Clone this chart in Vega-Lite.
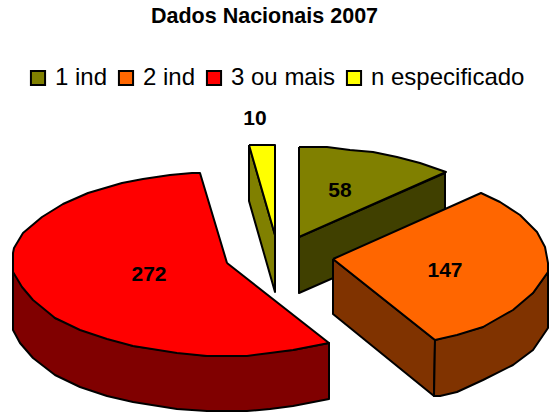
{
"$schema":"https://vega.github.io/schema/vega-lite/v6.json",
"width":549,"height":412,"padding":0,"autosize":{"type":"none"},
"background":"white",
"config":{"view":{"stroke":null}},
"title":{"text":"Dados Nacionais 2007","frame":"group","anchor":"start","dx":151,"offset":-27,"font":"Liberation Sans","fontSize":21.5,"fontWeight":"bold","color":"black"},
"datasets":{
"top":[
{"slice":"1 ind","poly":"a","i":0,"x":299,"y":147},{"slice":"1 ind","poly":"a","i":1,"x":327,"y":147},{"slice":"1 ind","poly":"a","i":2,"x":350,"y":150},{"slice":"1 ind","poly":"a","i":3,"x":373,"y":152},{"slice":"1 ind","poly":"a","i":4,"x":397,"y":157},{"slice":"1 ind","poly":"a","i":5,"x":420,"y":163},{"slice":"1 ind","poly":"a","i":6,"x":446,"y":172},{"slice":"1 ind","poly":"a","i":7,"x":299,"y":237},{"slice":"1 ind","poly":"a","i":8,"x":299,"y":147},
{"slice":"n especificado","poly":"a","i":0,"x":249,"y":145},{"slice":"n especificado","poly":"a","i":1,"x":275,"y":145},{"slice":"n especificado","poly":"a","i":2,"x":275,"y":235},{"slice":"n especificado","poly":"a","i":3,"x":249,"y":145},
{"slice":"3 ou mais","poly":"a","i":0,"x":227,"y":263},{"slice":"3 ou mais","poly":"a","i":1,"x":200,"y":173},{"slice":"3 ou mais","poly":"a","i":2,"x":192,"y":173},{"slice":"3 ou mais","poly":"a","i":3,"x":170,"y":175},{"slice":"3 ou mais","poly":"a","i":4,"x":143,"y":179},{"slice":"3 ou mais","poly":"a","i":5,"x":122,"y":183},{"slice":"3 ou mais","poly":"a","i":6,"x":88,"y":193},{"slice":"3 ou mais","poly":"a","i":7,"x":63,"y":204},{"slice":"3 ou mais","poly":"a","i":8,"x":42,"y":217},{"slice":"3 ou mais","poly":"a","i":9,"x":23,"y":233},{"slice":"3 ou mais","poly":"a","i":10,"x":14,"y":248},{"slice":"3 ou mais","poly":"a","i":11,"x":13,"y":253},{"slice":"3 ou mais","poly":"a","i":12,"x":13,"y":272},{"slice":"3 ou mais","poly":"a","i":13,"x":22,"y":287},{"slice":"3 ou mais","poly":"a","i":14,"x":33,"y":300},{"slice":"3 ou mais","poly":"a","i":15,"x":55,"y":318},{"slice":"3 ou mais","poly":"a","i":16,"x":80,"y":330},{"slice":"3 ou mais","poly":"a","i":17,"x":107,"y":339},{"slice":"3 ou mais","poly":"a","i":18,"x":133,"y":346},{"slice":"3 ou mais","poly":"a","i":19,"x":177,"y":353},{"slice":"3 ou mais","poly":"a","i":20,"x":207,"y":356},{"slice":"3 ou mais","poly":"a","i":21,"x":247,"y":356},{"slice":"3 ou mais","poly":"a","i":22,"x":270,"y":353},{"slice":"3 ou mais","poly":"a","i":23,"x":293,"y":350},{"slice":"3 ou mais","poly":"a","i":24,"x":329,"y":343},{"slice":"3 ou mais","poly":"a","i":25,"x":227,"y":263},
{"slice":"2 ind","poly":"a","i":0,"x":333,"y":259},{"slice":"2 ind","poly":"a","i":1,"x":481,"y":193},{"slice":"2 ind","poly":"a","i":2,"x":500,"y":202},{"slice":"2 ind","poly":"a","i":3,"x":520,"y":215},{"slice":"2 ind","poly":"a","i":4,"x":537,"y":232},{"slice":"2 ind","poly":"a","i":5,"x":545,"y":247},{"slice":"2 ind","poly":"a","i":6,"x":548,"y":263},{"slice":"2 ind","poly":"a","i":7,"x":548,"y":272},{"slice":"2 ind","poly":"a","i":8,"x":533,"y":293},{"slice":"2 ind","poly":"a","i":9,"x":513,"y":310},{"slice":"2 ind","poly":"a","i":10,"x":483,"y":327},{"slice":"2 ind","poly":"a","i":11,"x":457,"y":335},{"slice":"2 ind","poly":"a","i":12,"x":435,"y":340},{"slice":"2 ind","poly":"a","i":13,"x":333,"y":259}
],
"side":[
{"slice":"1 ind","poly":"a","i":0,"x":299,"y":237},{"slice":"1 ind","poly":"a","i":1,"x":445,"y":173},{"slice":"1 ind","poly":"a","i":2,"x":445,"y":229},{"slice":"1 ind","poly":"a","i":3,"x":299,"y":293},{"slice":"1 ind","poly":"a","i":4,"x":299,"y":237},
{"slice":"n especificado","poly":"a","i":0,"x":249,"y":145},{"slice":"n especificado","poly":"a","i":1,"x":275,"y":235},{"slice":"n especificado","poly":"a","i":2,"x":275,"y":292},{"slice":"n especificado","poly":"a","i":3,"x":249,"y":201},{"slice":"n especificado","poly":"a","i":4,"x":249,"y":145},
{"slice":"3 ou mais","poly":"a","i":0,"x":13,"y":272},{"slice":"3 ou mais","poly":"a","i":1,"x":13,"y":330},{"slice":"3 ou mais","poly":"a","i":2,"x":20,"y":343},{"slice":"3 ou mais","poly":"a","i":3,"x":33,"y":358},{"slice":"3 ou mais","poly":"a","i":4,"x":55,"y":375},{"slice":"3 ou mais","poly":"a","i":5,"x":80,"y":387},{"slice":"3 ou mais","poly":"a","i":6,"x":107,"y":396},{"slice":"3 ou mais","poly":"a","i":7,"x":133,"y":402},{"slice":"3 ou mais","poly":"a","i":8,"x":177,"y":409},{"slice":"3 ou mais","poly":"a","i":9,"x":207,"y":411},{"slice":"3 ou mais","poly":"a","i":10,"x":247,"y":411},{"slice":"3 ou mais","poly":"a","i":11,"x":270,"y":409},{"slice":"3 ou mais","poly":"a","i":12,"x":293,"y":406},{"slice":"3 ou mais","poly":"a","i":13,"x":329,"y":399},{"slice":"3 ou mais","poly":"a","i":14,"x":329,"y":343},{"slice":"3 ou mais","poly":"a","i":15,"x":293,"y":350},{"slice":"3 ou mais","poly":"a","i":16,"x":207,"y":356},{"slice":"3 ou mais","poly":"a","i":17,"x":133,"y":346},{"slice":"3 ou mais","poly":"a","i":18,"x":55,"y":318},{"slice":"3 ou mais","poly":"a","i":19,"x":13,"y":272},
{"slice":"2 ind","poly":"a","i":0,"x":333,"y":259},{"slice":"2 ind","poly":"a","i":1,"x":435,"y":340},{"slice":"2 ind","poly":"a","i":2,"x":434,"y":396},{"slice":"2 ind","poly":"a","i":3,"x":333,"y":314},{"slice":"2 ind","poly":"a","i":4,"x":333,"y":259},
{"slice":"2 ind","poly":"b","i":0,"x":435,"y":340},{"slice":"2 ind","poly":"b","i":1,"x":483,"y":327},{"slice":"2 ind","poly":"b","i":2,"x":533,"y":293},{"slice":"2 ind","poly":"b","i":3,"x":548,"y":272},{"slice":"2 ind","poly":"b","i":4,"x":548,"y":328},{"slice":"2 ind","poly":"b","i":5,"x":533,"y":350},{"slice":"2 ind","poly":"b","i":6,"x":513,"y":365},{"slice":"2 ind","poly":"b","i":7,"x":483,"y":380},{"slice":"2 ind","poly":"b","i":8,"x":457,"y":392},{"slice":"2 ind","poly":"b","i":9,"x":440,"y":396},{"slice":"2 ind","poly":"b","i":10,"x":434,"y":396},{"slice":"2 ind","poly":"b","i":11,"x":435,"y":340}
],
"labels":[
{"slice":"1 ind","value":58,"lx":340,"ly":191},
{"slice":"2 ind","value":147,"lx":445,"ly":271},
{"slice":"3 ou mais","value":272,"lx":149,"ly":275},
{"slice":"n especificado","value":10,"lx":255,"ly":119}
]
},
"layer":[
{"data":{"name":"side"},
 "mark":{"type":"line","stroke":"black","strokeWidth":2,"strokeJoin":"round"},
 "encoding":{
  "x":{"field":"x","type":"quantitative","scale":{"domain":[0,549],"nice":false,"zero":false},"axis":null},
  "y":{"field":"y","type":"quantitative","scale":{"domain":[412,0],"nice":false,"zero":false},"axis":null},
  "order":{"field":"i","type":"quantitative"},
  "detail":[{"field":"slice"},{"field":"poly"}],
  "fill":{"field":"slice","type":"nominal","legend":null,"scale":{"domain":["1 ind","2 ind","3 ou mais","n especificado"],"range":["#404000","#803300","#800000","#808000"]}}
 }},
{"data":{"name":"top"},
 "mark":{"type":"line","stroke":"black","strokeWidth":2,"strokeJoin":"round"},
 "encoding":{
  "x":{"field":"x","type":"quantitative","scale":{"domain":[0,549],"nice":false,"zero":false},"axis":null},
  "y":{"field":"y","type":"quantitative","scale":{"domain":[412,0],"nice":false,"zero":false},"axis":null},
  "order":{"field":"i","type":"quantitative"},
  "detail":{"field":"slice"},
  "fill":{"field":"slice","type":"nominal","scale":{"domain":["1 ind","2 ind","3 ou mais","n especificado"],"range":["#808000","#FF6600","#FF0000","#FFFF00"]},
   "legend":{"title":null,"orient":"none","legendX":26,"legendY":66,"direction":"horizontal","columns":4,"symbolType":"square","symbolSize":200,"symbolStrokeColor":"black","symbolStrokeWidth":2,"labelFont":"Liberation Sans","labelFontSize":24,"labelColor":"black","labelOffset":5,"columnPadding":6,"labelLimit":300,"symbolOpacity":1}}
 }},
{"data":{"name":"labels"},
 "mark":{"type":"text","font":"Liberation Sans","fontSize":21,"fontWeight":"bold","color":"black","align":"center","baseline":"middle"},
 "encoding":{
  "x":{"field":"lx","type":"quantitative","scale":{"domain":[0,549],"nice":false,"zero":false},"axis":null},
  "y":{"field":"ly","type":"quantitative","scale":{"domain":[412,0],"nice":false,"zero":false},"axis":null},
  "text":{"field":"value","type":"quantitative"}
 }}
],
"resolve":{"scale":{"fill":"independent"}}
}
